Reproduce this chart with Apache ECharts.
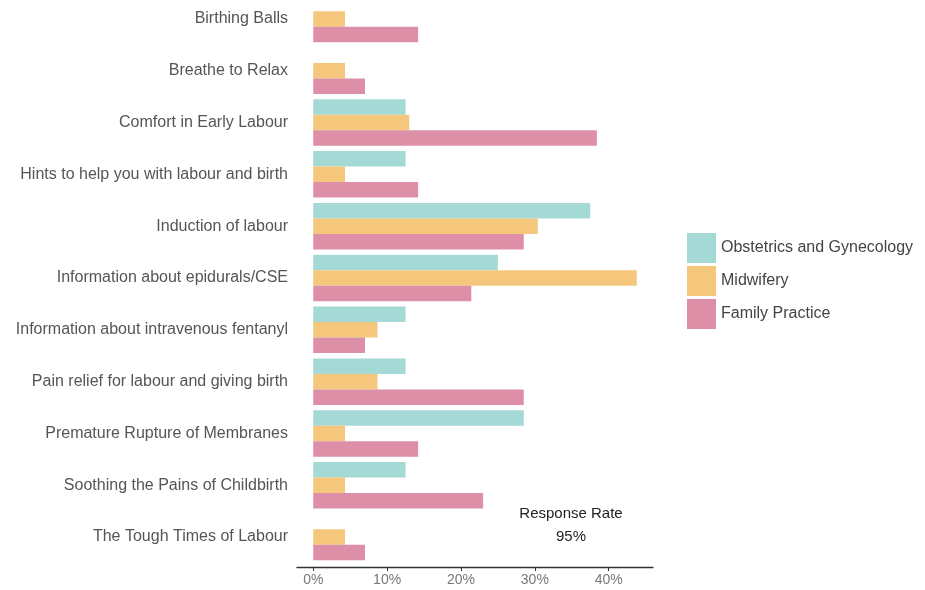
<!DOCTYPE html>
<html>
<head>
<meta charset="utf-8">
<script src="https://cdn.jsdelivr.net/npm/echarts@6/dist/echarts.min.js"></script>
<style>html,body{margin:0;padding:0;background:#fff;overflow:hidden}#c{position:absolute;left:0;top:-7px;width:925px;height:597px}</style>
</head>
<body>
<div id="c"></div>
<script>
const categories = [
  "Birthing Balls",
  "Breathe to Relax",
  "Comfort in Early Labour",
  "Hints to help you with labour and birth",
  "Induction of labour",
  "Information about epidurals/CSE",
  "Information about intravenous fentanyl",
  "Pain relief for labour and giving birth",
  "Premature Rupture of Membranes",
  "Soothing the Pains of Childbirth",
  "The Tough Times of Labour"
];
const seriesNames = ["Obstetrics and Gynecology", "Midwifery", "Family Practice"];
const obstetrics = [0, 0, 12.5, 12.5, 37.5, 25.0, 12.5, 12.5, 28.5, 12.5, 0];
const midwifery  = [4.3, 4.3, 13.0, 4.3, 30.4, 43.8, 8.7, 8.7, 4.3, 4.3, 4.3];
const familyPractice = [14.2, 7.0, 38.4, 14.2, 28.5, 21.4, 7.0, 28.5, 14.2, 23.0, 7.0];
const tickValues = [0, 10, 20, 30, 40];
const annotation = "Response Rate\n95%";

const colors = ["#a5d9d6", "#f4c77c", "#dc8fa7"];
const chart = echarts.init(document.getElementById('c'), null, {renderer: 'canvas'});
const FONT = "Liberation Sans";
const dataSets = [obstetrics, midwifery, familyPractice];

chart.setOption({
  animation: false,
  backgroundColor: '#ffffff',
  grid: {left: 297, right: 272, top: 0, bottom: 27, containLabel: false},
  xAxis: {
    type: 'value', min: -2.2, max: 46, offset: 4,
    splitLine: {show: false},
    axisLine: {show: true, lineStyle: {color: '#333', width: 1.3}},
    axisTick: {show: true, customValues: tickValues, length: 4, lineStyle: {color: '#333'}},
    axisLabel: {customValues: tickValues, formatter: v => v + '%', color: '#777', fontFamily: FONT, fontSize: 14, margin: 6}
  },
  yAxis: {
    type: 'category', data: categories, inverse: true,
    axisLine: {show: false}, axisTick: {show: false},
    axisLabel: {color: '#555', fontFamily: FONT, fontSize: 16, margin: 9}
  },
  legend: {
    orient: 'vertical', left: 687, top: 240, itemWidth: 29, itemHeight: 30, itemGap: 3,
    padding: 0, icon: 'rect',
    textStyle: {color: '#444', fontFamily: FONT, fontSize: 16},
    data: seriesNames
  },
  graphic: [{
    type: 'text', x: 571, y: 509,
    style: {text: annotation, fill: '#222', font: '15px "Liberation Sans"', align: 'center', verticalAlign: 'top', lineHeight: 23}
  }],
  series: dataSets.map((d, i) => ({
    name: seriesNames[i], type: 'bar', data: d,
    barWidth: 15.5, barGap: '0%', barCategoryGap: '10%',
    itemStyle: {color: colors[i]}
  }))
});
</script>
</body>
</html>
